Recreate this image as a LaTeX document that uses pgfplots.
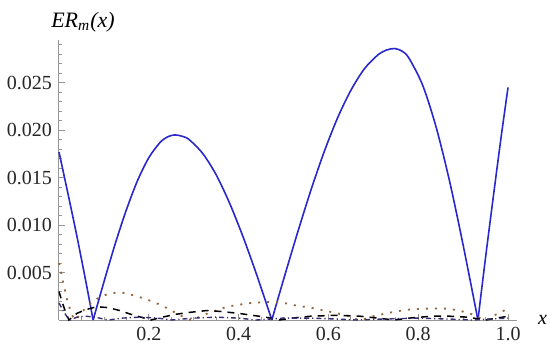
\documentclass[border=0pt]{standalone}
\usepackage{fontspec}
\setmainfont{Liberation Serif}
\usepackage{pgfplots}
\pgfplotsset{compat=1.18}
\definecolor{mblue}{RGB}{40,40,205}
\definecolor{mbrown}{RGB}{150,100,60}
\definecolor{mindigo}{RGB}{55,45,115}
\definecolor{axgray}{RGB}{150,150,150}

\begin{document}
\begin{tikzpicture}
\useasboundingbox (-29.5pt,-14.5pt) rectangle (245.5pt,160pt);
\begin{axis}[
  at={(0,0)},anchor=south west,
  scale only axis,width=229pt,height=140pt,
  xmin=0,xmax=1.02,ymin=0,ymax=0.0295,
  axis lines=left,axis line style={-,draw=axgray,line width=0.5pt},
  tick align=inside,major tick length=3pt,minor tick length=1.6pt,
  every tick/.style={axgray,line width=0.4pt},
  xtick={0.2,0.4,0.6,0.8,1.0},
  minor xtick={0.05,0.1,0.15,0.25,0.3,0.35,0.45,0.5,0.55,0.65,0.7,0.75,0.85,0.9,0.95},
  ytick={0.005,0.01,0.015,0.02,0.025},
  minor ytick={0.001,0.002,0.003,0.004,0.006,0.007,0.008,0.009,0.011,0.012,0.013,0.014,0.016,0.017,0.018,0.019,0.021,0.022,0.023,0.024,0.026,0.027,0.028,0.029},
  scaled y ticks=false,
  xticklabel style={/pgf/number format/.cd,fixed,fixed zerofill,precision=1},
  yticklabel style={/pgf/number format/.cd,fixed,fixed zerofill,precision=3},
  /pgf/number format/assume math mode=true,
  ticklabel style={font=\fontsize{10}{12}\selectfont,text=black!85},
  clip=false,
]
% solid blue, one piece per arch
\addplot[mblue,line width=0.8pt,smooth,tension=0.5] coordinates {
(0,0.0177)(0.02,0.0133)(0.04,0.0088)(0.06,0.0040)(0.076,0)};
\addplot[mblue,line width=0.8pt,smooth,tension=0.5] coordinates {
(0.076,0)(0.10,0.0040)(0.125,0.0080)(0.15,0.0116)(0.175,0.0147)(0.20,0.0171)(0.225,0.0187)(0.242,0.0193)(0.258,0.0195)(0.275,0.01935)(0.29,0.0190)(0.32,0.01755)(0.35,0.0153)(0.38,0.0123)(0.41,0.00875)(0.44,0.0048)(0.474,0)};
\addplot[mblue,line width=0.8pt,smooth,tension=0.5] coordinates {
(0.474,0)(0.50,0.00425)(0.53,0.0090)(0.56,0.01353)(0.59,0.01765)(0.62,0.02125)(0.65,0.0242)(0.68,0.02646)(0.71,0.02792)(0.73,0.02845)(0.748,0.0286)(0.765,0.0283)(0.78,0.02754)(0.81,0.02472)(0.84,0.0203)(0.87,0.01459)(0.90,0.0079)(0.933,0)};
\addplot[mblue,line width=0.8pt,smooth,tension=0.5] coordinates {
(0.933,0)(0.95,0.0066)(0.97,0.0140)(0.985,0.0194)(1.0,0.0245)};
% dotted brown
\addplot[mbrown,line width=0.9pt,dash pattern=on 1pt off 3.5pt,smooth,tension=0.4] coordinates {
(0,0.0060)(0.01,0.0038)(0.02,0.0018)(0.035,0)(0.05,0.0008)(0.065,0.0015)(0.08,0.0021)(0.10,0.0026)(0.13,0.0029)(0.15,0.0028)(0.18,0.0024)(0.205,0.0020)(0.23,0.0015)(0.25,0.0010)(0.27,0.0005)(0.295,0)
(0.32,0.0005)(0.35,0.0010)(0.375,0.0014)(0.40,0.0016)(0.43,0.0018)(0.47,0.0019)(0.50,0.0018)(0.53,0.0015)(0.56,0.0013)(0.59,0.0010)(0.62,0.0007)(0.645,0.0004)(0.67,0)
(0.70,0.0004)(0.74,0.0008)(0.78,0.0011)(0.82,0.0012)(0.86,0.0012)(0.89,0.0010)(0.92,0.0006)(0.95,0)(0.97,0.0005)(1.0,0.0012)
};
% long dashed black
\addplot[black,line width=0.75pt,dash pattern=on 3.5pt off 3pt] coordinates {
(0,0.0030)(0.005,0.0022)(0.012,0.0012)(0.022,0)(0.04,0.0007)(0.06,0.0011)(0.085,0.0014)(0.11,0.0013)(0.135,0.0010)(0.16,0.0006)(0.19,0.0002)(0.205,0)
(0.23,0.0003)(0.26,0.0006)(0.29,0.0008)(0.33,0.0010)(0.36,0.0009)(0.40,0.0007)(0.43,0.0005)(0.46,0.0003)(0.49,0)
(0.52,0.0002)(0.56,0.0004)(0.62,0.0005)(0.67,0.0004)(0.71,0.0002)(0.745,0)(0.78,0.0002)(0.83,0.0004)(0.87,0.0004)(0.91,0.0003)(0.95,0)(0.975,0.0002)(1.0,0.0004)
};
% dash-dot indigo
\addplot[mindigo,line width=0.7pt,dash pattern=on 2.5pt off 1.5pt on 0.6pt off 1.5pt] coordinates {
(0,0.0018)(0.01,0.0009)(0.02,0.0002)(0.025,0)(0.04,0.0003)(0.06,0.0004)(0.08,0.0003)(0.10,0.0001)(0.11,0)(0.14,0.0002)(0.18,0.0003)(0.22,0.0002)(0.25,0)
(0.30,0.0002)(0.35,0.0003)(0.40,0.0002)(0.44,0)(0.50,0.0002)(0.56,0.0002)(0.62,0.0001)(0.66,0)(0.72,0.0001)(0.80,0.0002)(0.87,0.0001)(0.92,0)(0.96,0.0001)(1.0,0.0002)
};
\node[anchor=west,font=\fontsize{10}{12}\selectfont\itshape] at (axis description cs:1,0) [xshift=7pt] {x};
\node[anchor=south,font=\fontsize{11}{13}\selectfont\itshape] at (axis description cs:0,1) [xshift=12pt,yshift=0.5pt] {ER\textsubscript{m}(x)};
\end{axis}
\end{tikzpicture}
\end{document}
